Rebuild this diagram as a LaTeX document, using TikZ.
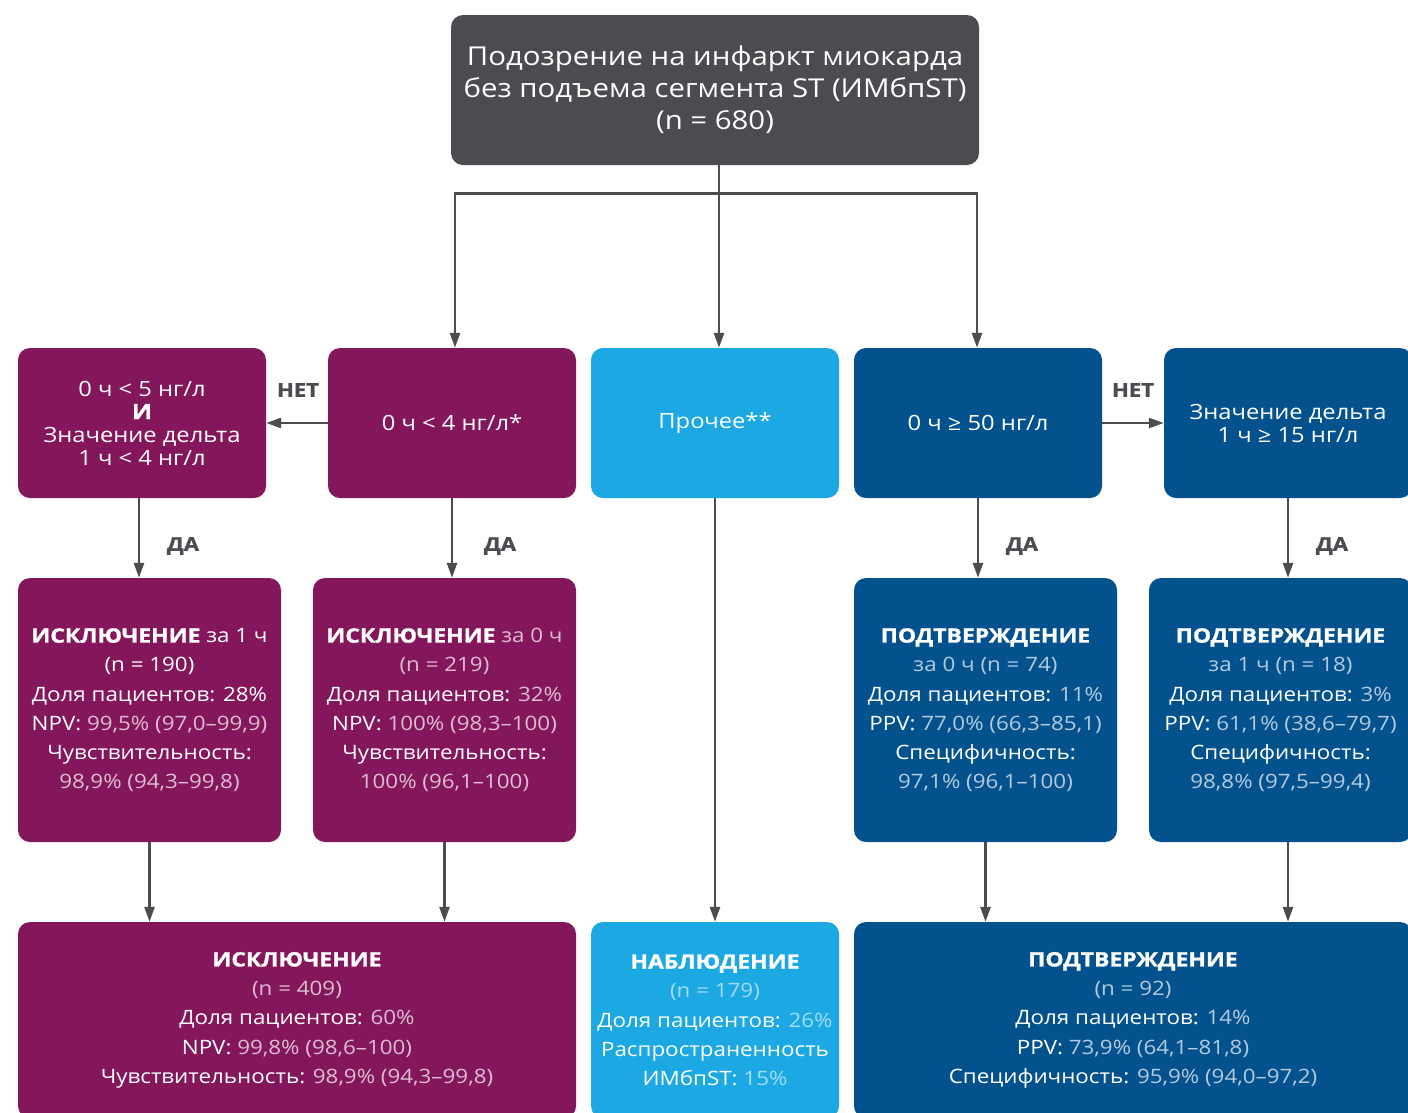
\documentclass[tikz,border=0pt]{standalone}
\usepackage{fontspec}
\setmainfont{Open Sans}[FakeStretch=1.13]
\newfontfamily\heavyfont{Open Sans}[FakeStretch=1.16, BoldFeatures={FakeBold=1.2}]
\usetikzlibrary{arrows.meta}
\definecolor{cmag}{HTML}{84165B}
\definecolor{csky}{HTML}{1BA8E3}
\definecolor{cblu}{HTML}{03528E}
\definecolor{cgry}{HTML}{4D4B50}
\colorlet{lmagc}{white!72!cmag}
\colorlet{lbluc}{white!70!cblu}
\colorlet{lskyc}{white!60!csky}
\newcommand\lmag[1]{\textcolor{lmagc}{#1}}
\newcommand\lblu[1]{\textcolor{lbluc}{#1}}
\newcommand\lsky[1]{\textcolor{lskyc}{#1}}
\newcommand\hv[1]{{\heavyfont\bfseries #1}}
\begin{document}
\begin{tikzpicture}[x=1pt,y=-1pt,
  box/.style={rounded corners=12pt, text=white, align=center, inner sep=0pt, draw=none},
  topbox/.style={box, fill=cgry, minimum width=528pt, minimum height=150pt, font=\fontsize{26}{32}\selectfont},
  condbox/.style={box, minimum width=248pt, minimum height=150pt, font=\fontsize{21}{23}\selectfont},
  resbox/.style={box, minimum width=263pt, minimum height=264pt, font=\fontsize{19.8}{29.2}\selectfont},
  finbox/.style={box, minimum height=196pt, font=\fontsize{19.8}{29.2}\selectfont},
  arr/.style={draw=cgry, line width=2.6pt, -{Triangle[length=15pt,width=10pt]}},
  ln/.style={draw=cgry, line width=2.6pt},
  lab/.style={text=cgry, font=\fontsize{19}{22}\selectfont\heavyfont\bfseries, inner sep=0pt}]
\useasboundingbox (0,0) rectangle (1408,1112);
\clip (0,0) rectangle (1408,1112);
\fill[white] (0,0) rectangle (1408,1112);
% top
\node[topbox] (top) at (715,90) {Подозрение на инфаркт миокарда\\без подъема сегмента ST (ИМбпST)\\(n = 680)};
% row 2
\node[condbox, fill=cmag] (c1) at (142,423) {0 ч < 5 нг/л\\\hv{И}\\Значение дельта\\1 ч < 4 нг/л};
\node[condbox, fill=cmag] (c2) at (452,423) {0 ч < 4 нг/л*};
\node[condbox, fill=csky] (c3) at (715,423) {Прочее**};
\node[condbox, fill=cblu] (c4) at (978,423) {0 ч ≥ 50 нг/л};
\node[condbox, fill=cblu] (c5) at (1288,423) {Значение дельта\\1 ч ≥ 15 нг/л};
% row 3
\node[resbox, fill=cmag] (r1) at (149.5,710) {\hv{ИСКЛЮЧЕНИЕ} за 1 ч\\(n = 190)\\Доля пациентов: 28\%\\NPV: \lmag{99,5\% (97,0–99,9)}\\Чувствительность:\\\lmag{98,9\% (94,3–99,8)}};
\node[resbox, fill=cmag] (r2) at (444.5,710) {\hv{ИСКЛЮЧЕНИЕ} \lmag{за 0 ч}\\\lmag{(n = 219)}\\Доля пациентов: \lmag{32\%}\\NPV: \lmag{100\% (98,3–100)}\\Чувствительность:\\\lmag{100\% (96,1–100)}};
\node[resbox, fill=cblu] (r4) at (985.5,710) {\hv{ПОДТВЕРЖДЕНИЕ}\\\lblu{за 0 ч (n = 74)}\\Доля пациентов: \lblu{11\%}\\PPV: \lblu{77,0\% (66,3–85,1)}\\Специфичность:\\\lblu{97,1\% (96,1–100)}};
\node[resbox, fill=cblu] (r5) at (1280.5,710) {\hv{ПОДТВЕРЖДЕНИЕ}\\\lblu{за 1 ч (n = 18)}\\Доля пациентов: \lblu{3\%}\\PPV: \lblu{61,1\% (38,6–79,7)}\\Специфичность:\\\lblu{98,8\% (97,5–99,4)}};
% row 4
\node[finbox, fill=cmag, minimum width=558pt] (f1) at (297,1020) {\hv{ИСКЛЮЧЕНИЕ}\\\lmag{(n = 409)}\\Доля пациентов: \lmag{60\%}\\NPV: \lmag{99,8\% (98,6–100)}\\Чувствительность: \lmag{98,9\% (94,3–99,8)}};
\node[finbox, fill=csky, minimum width=248pt] (f2) at (715,1020) {\hv{НАБЛЮДЕНИЕ}\\\lsky{(n = 179)}\\Доля пациентов: \lsky{26\%}\\Распространенность\\ИМбпST: \lsky{15\%}};
\node[finbox, fill=cblu, minimum width=558pt] (f3) at (1133,1020) {\hv{ПОДТВЕРЖДЕНИЕ}\\\lblu{(n = 92)}\\Доля пациентов: \lblu{14\%}\\PPV: \lblu{73,9\% (64,1–81,8)}\\Специфичность: \lblu{95,9\% (94,0–97,2)}};
% connectors from top
\draw[ln] ([xshift=4pt]top.south) -- ++(0,28) coordinate (j);
\draw[arr] (j) -| ([xshift=3pt]c2.north);
\draw[arr] (j) -- ([xshift=4pt]c3.north);
\draw[arr] (j) -| ([xshift=-1pt]c4.north);
% horizontal
\draw[arr] (c2.west) -- (c1.east);
\draw[arr] (c4.east) -- (c5.west);
\node[lab] (n1) at (298,390) {НЕТ};
\node[lab] (n2) at (1133,390) {НЕТ};
% row 2 -> row 3
\draw[arr] ([xshift=-3pt]c1.south) -- ([xshift=-3pt]c1.south |- r1.north);
\draw[arr] (c2.south) -- (c2.south |- r2.north);
\draw[arr] (c4.south) -- (c4.south |- r4.north);
\draw[arr] (c5.south) -- (c5.south |- r5.north);
\node[lab] (d1) at (183,546) {ДА};
\node[lab] (d2) at (500,546) {ДА};
\node[lab] (d3) at (1022,546) {ДА};
\node[lab] (d4) at (1332,546) {ДА};
% row 3 -> row 4
\draw[arr] (r1.south) -- (r1.south |- f1.north);
\draw[arr] (r2.south) -- (r2.south |- f1.north);
\draw[arr] (c3.south) -- (f2.north);
\draw[arr] (r4.south) -- (r4.south |- f3.north);
\draw[arr] ([xshift=7.5pt]r5.south) -- ([xshift=7.5pt]r5.south |- f3.north);
\end{tikzpicture}
\end{document}
